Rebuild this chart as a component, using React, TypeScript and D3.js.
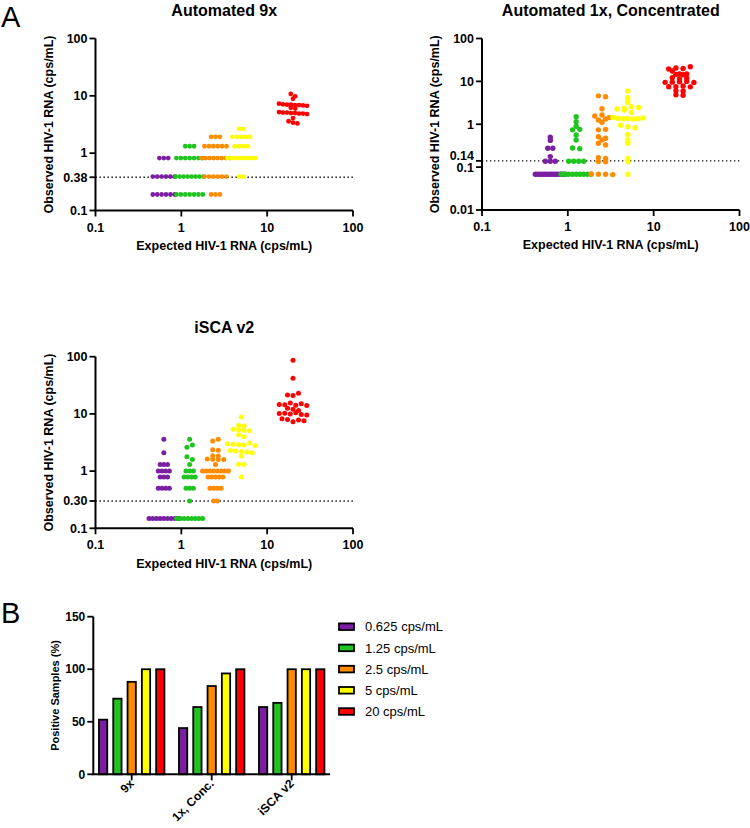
import React from "react";
import * as d3 from "d3";

type Row = [number, number]; // [observed value, number of samples at that value]

const FONT = "'Liberation Sans', Arial, Helvetica, sans-serif";

const seriesNames = ["0.625 cps/mL", "1.25 cps/mL", "2.5 cps/mL", "5 cps/mL", "20 cps/mL"];
const expectedRNA = [0.625, 1.25, 2.5, 5, 20];
const seriesColors = ["#7b1fa2", "#1fc41f", "#ff8c00", "#ffff00", "#ff0000"];

const xTicks = [0.1, 1, 10, 100];
const xTickLabels = ["0.1", "1", "10", "100"];

// ---- Automated 9x ----
const a9x_0625: Row[] = [[0.82, 3], [0.39, 6], [0.19, 6]];
const a9x_125: Row[] = [[1.32, 3], [0.82, 7], [0.39, 8], [0.19, 7]];
const a9x_25: Row[] = [[1.93, 3], [1.32, 6], [0.82, 8], [0.39, 6], [0.19, 3]];
const a9x_5: Row[] = [[2.66, 2], [1.93, 5], [1.32, 4], [0.82, 8], [0.39, 2]];
const a9x_20: Row[] = [
  [10.8, 1], [9.8, 1], [8.9, 1], [7.3, 1], [7.1, 1], [7.0, 2], [6.9, 2], [6.8, 1], [6.7, 1],
  [6.2, 1], [6.0, 1], [5.2, 1], [5.1, 2], [5.0, 2], [4.9, 2], [4.8, 1], [4.1, 1], [3.6, 1], [3.4, 1], [3.3, 1],
];
const yTicks9x = [0.1, 0.38, 1, 10, 100];
const yTickLabels9x = ["0.1", "0.38", "1", "10", "100"];
const lod9x = 0.38;

// ---- Automated 1x, Concentrated ----
const c1x_0625: Row[] = [[0.5, 1], [0.42, 1], [0.275, 2], [0.176, 1], [0.137, 3], [0.068, 14]];
const c1x_125: Row[] = [
  [1.5, 1], [1.15, 1], [0.9, 1], [0.74, 1], [0.76, 1], [0.56, 1], [0.43, 1], [0.28, 1], [0.27, 1],
  [0.137, 4], [0.068, 9],
];
const c1x_25: Row[] = [
  [4.6, 1], [4.4, 1], [2.3, 1], [1.56, 1], [1.65, 1], [1.43, 1], [1.26, 1], [1.33, 1], [1.11, 1],
  [0.74, 1], [0.76, 1], [0.51, 1], [0.47, 1], [0.43, 1], [0.36, 1], [0.33, 1], [0.167, 1], [0.16, 1],
  [0.136, 1], [0.134, 1], [0.069, 1], [0.068, 2], [0.067, 1],
];
const c1x_5: Row[] = [
  [5.97, 1], [4.17, 1], [3.26, 1], [2.27, 1], [2.36, 1], [2.57, 1], [2.45, 1], [2.15, 1], [1.9, 1],
  [1.45, 1], [1.38, 1], [1.34, 1], [1.36, 1], [1.33, 1], [1.35, 1], [1.4, 1],
  [0.95, 1], [0.88, 1], [0.83, 1], [0.58, 1], [0.43, 1], [0.36, 1], [0.16, 1], [0.135, 1], [0.068, 1],
];
const c1x_20: Row[] = [
  [19.5, 1], [20.5, 1], [20, 1], [22, 1], [17.4, 1], [14.9, 1], [14.5, 1], [14.9, 1], [14.3, 1],
  [12.2, 1], [11.4, 1], [11.8, 1], [9.5, 1], [9.6, 1], [9.8, 1], [10, 1], [9.4, 1],
  [7.5, 1], [7.55, 1], [7.8, 1], [7.45, 1], [6.05, 1], [5.95, 1], [4.85, 1], [4.75, 1],
];
const yTicks1x = [0.01, 0.1, 0.14, 1, 10, 100];
const yTickLabels1x = ["0.01", "0.1", "0.14", "1", "10", "100"];
const lod1x = 0.14;

// ---- iSCA v2 ----
const isca_0625: Row[] = [[3.6, 1], [2.09, 1], [1.31, 3], [1.0, 4], [0.79, 3], [0.5, 4], [0.149, 9]];
const isca_125: Row[] = [
  [3.6, 1], [2.6, 1], [2.85, 1], [1.78, 1], [1.6, 1], [1.31, 1], [1.0, 3], [0.79, 4], [0.5, 3],
  [0.3, 1], [0.149, 8],
];
const isca_25: Row[] = [
  [3.35, 1], [3.6, 1], [2.35, 1], [2.31, 1], [1.86, 1], [1.84, 1], [1.62, 1], [1.61, 1], [1.6, 1], [1.59, 1],
  [1.31, 1], [1.0, 8], [0.79, 5], [0.5, 4], [0.3, 2],
];
const isca_5: Row[] = [
  [8.8, 1], [6.3, 1], [6.2, 1], [5.4, 1], [5.3, 1], [5.2, 1], [5.1, 1], [4.3, 1], [4.0, 1],
  [3.0, 1], [2.95, 1], [2.9, 1], [2.85, 1], [3.1, 1], [2.8, 1],
  [2.3, 1], [2.25, 1], [2.2, 1], [2.15, 1], [2.1, 1], [1.83, 1], [1.32, 1], [1.3, 1], [0.79, 1],
];
const isca_20: Row[] = [
  [87, 1], [42, 1], [21.5, 1], [21, 1], [23, 1],
  [14.6, 1], [14.4, 1], [15.5, 1], [14.2, 1], [15, 1], [14.0, 1],
  [12.5, 1], [12, 1], [11.5, 1],
  [10.2, 1], [10.3, 1], [10, 1], [10.5, 1], [9.8, 1], [9.6, 1],
  [8.2, 1], [8, 1], [7.3, 1], [7.8, 1], [7.6, 1],
];
const yTicksIsca = [0.1, 0.3, 1, 10, 100];
const yTickLabelsIsca = ["0.1", "0.30", "1", "10", "100"];
const lodIsca = 0.3;

// ---- Panel B ----
const barGroups = ["9x", "1x, Conc.", "iSCA v2"];
const pos0625 = [52, 44, 64];
const pos125 = [72, 64, 68];
const pos25 = [88, 84, 100];
const pos5 = [100, 96, 100];
const pos20 = [100, 100, 100];
const yTicksB = [0, 50, 100, 150];

interface SwarmOpt { h: number; s: number; sRow: number; W: number }

function swarm(rows: Row[], y: (v: number) => number, cx: number, o: SwarmOpt) {
  const pts: { v: number; y: number; i: number }[] = [];
  rows.forEach(([v, n]) => {
    for (let k = 0; k < n; k++) pts.push({ v, y: y(v), i: pts.length });
  });
  const sorted = [...pts].sort((a, b) => a.y - b.y || a.i - b.i);
  const bins: { v: number; y: number; i: number }[][] = [];
  let start = -Infinity;
  sorted.forEach((p) => {
    if (bins.length === 0 || p.y - start >= o.h - 1e-9) {
      bins.push([]);
      start = p.y;
    }
    bins[bins.length - 1].push(p);
  });
  const out: { x: number; y: number }[] = [];
  bins.forEach((b) => {
    const k = b.length;
    const same = b.every((p) => p.v === b[0].v);
    const base = same ? o.sRow : o.s;
    const sp = k > 1 ? Math.min(base, o.W / (k - 1)) : 0;
    b.sort((a, c) => a.i - c.i).forEach((p, j) => out.push({ x: cx + (j - (k - 1) / 2) * sp, y: p.y }));
  });
  return out;
}

interface PanelCfg {
  title: string;
  titleY: number;
  xr: [number, number];
  yr: [number, number];
  yd: [number, number];
  yTicks: number[];
  yLabels: string[];
  lod: number;
  groups: Row[][];
  opt: SwarmOpt;
  r: number;
  yLabelX: number;
  xLabelY: number;
}

const panels: PanelCfg[] = [
  {
    title: "Automated 9x", titleY: 16, xr: [95.5, 353], yr: [210.5, 38.5], yd: [0.1, 100],
    yTicks: yTicks9x, yLabels: yTickLabels9x, lod: lod9x,
    groups: [a9x_0625, a9x_125, a9x_25, a9x_5, a9x_20],
    opt: { h: 3, s: 4.4, sRow: 4.4, W: 28 }, r: 2.4, yLabelX: 53, xLabelY: 249.5,
  },
  {
    title: "Automated 1x, Concentrated", titleY: 16, xr: [482, 739.5], yr: [210, 38.5], yd: [0.01, 100],
    yTicks: yTicks1x, yLabels: yTickLabels1x, lod: lod1x,
    groups: [c1x_0625, c1x_125, c1x_25, c1x_5, c1x_20],
    opt: { h: 3, s: 7.2, sRow: 5, W: 30 }, r: 2.7, yLabelX: 439, xLabelY: 248.5,
  },
  {
    title: "iSCA v2", titleY: 333, xr: [95.5, 353], yr: [528.3, 356.7], yd: [0.1, 100],
    yTicks: yTicksIsca, yLabels: yTickLabelsIsca, lod: lodIsca,
    groups: [isca_0625, isca_125, isca_25, isca_5, isca_20],
    opt: { h: 3, s: 5.5, sRow: 3.7, W: 30 }, r: 2.5, yLabelX: 53, xLabelY: 567.5,
  },
];

function ScatterPanel({ c }: { c: PanelCfg }) {
  const x = d3.scaleLog().domain([0.1, 100]).range(c.xr);
  const y = d3.scaleLog().domain(c.yd).range(c.yr);
  const [x0, x1] = c.xr;
  const yBase = c.yr[0];
  const cxMid = (x0 + x1) / 2;
  const cyMid = (c.yr[0] + c.yr[1]) / 2;
  // nudge overlapping tick labels apart
  const tickPos = c.yTicks.map((t) => y(t));
  const labelPos = tickPos.map((p, i) => {
    const below = i > 0 ? tickPos[i - 1] : Infinity;
    return below - p < 9 ? p - 5.5 : p;
  });
  const labelPos2 = labelPos.map((p, i) => {
    const above = i < tickPos.length - 1 ? tickPos[i + 1] : -Infinity;
    return p - above < 9 ? p + 1 : p;
  });
  return (
    <g>
      <text x={cxMid} y={c.titleY} textAnchor="middle" fontFamily={FONT} fontWeight="bold" fontSize={16}>
        {c.title}
      </text>
      <line x1={x0} x2={x1} y1={y(c.lod)} y2={y(c.lod)} stroke="#000" strokeWidth={1.3} strokeDasharray="1.3 2.7" />
      {c.groups.map((g, gi) =>
        swarm(g, y, x(expectedRNA[gi]), c.opt).map((p, pi) => (
          <circle key={gi + "-" + pi} cx={p.x} cy={p.y} r={c.r} fill={seriesColors[gi]} />
        ))
      )}
      <line x1={x0} x2={x0} y1={c.yr[1]} y2={yBase} stroke="#000" strokeWidth={2} />
      <line x1={x0 - 1} x2={x1} y1={yBase} y2={yBase} stroke="#000" strokeWidth={2} />
      {c.yTicks.map((t, i) => (
        <g key={"yt" + i}>
          <line x1={x0 - 6} x2={x0} y1={y(t)} y2={y(t)} stroke="#000" strokeWidth={1.8} />
          <text x={x0 - 8} y={labelPos2[i] + 4.3} textAnchor="end" fontFamily={FONT} fontWeight="bold" fontSize={12.5}>
            {c.yLabels[i]}
          </text>
        </g>
      ))}
      {xTicks.map((t, i) => (
        <g key={"xt" + i}>
          <line x1={x(t)} x2={x(t)} y1={yBase} y2={yBase + 6} stroke="#000" strokeWidth={1.8} />
          <text x={x(t)} y={yBase + 21} textAnchor="middle" fontFamily={FONT} fontWeight="bold" fontSize={12.5}>
            {xTickLabels[i]}
          </text>
        </g>
      ))}
      <text
        transform={`translate(${c.yLabelX},${cyMid}) rotate(-90)`}
        textAnchor="middle" fontFamily={FONT} fontWeight="bold" fontSize={12.5}
      >
        Observed HIV-1 RNA (cps/mL)
      </text>
      <text x={cxMid} y={c.xLabelY} textAnchor="middle" fontFamily={FONT} fontWeight="bold" fontSize={12.5}>
        Expected HIV-1 RNA (cps/mL)
      </text>
    </g>
  );
}

function BarPanel() {
  const seriesVals = [pos0625, pos125, pos25, pos5, pos20];
  const x0 = d3.scaleBand<string>().domain(barGroups).range([91.7, 331.7]).padding(0);
  const x1 = d3.scaleBand<number>().domain(d3.range(seriesNames.length)).range([-35.75, 35.75]).paddingInner(0.42).paddingOuter(0.21);
  const y = d3.scaleLinear().domain([0, 150]).range([774.3, 616.7]);
  const axX = 93.3;
  return (
    <g>
      {barGroups.map((g, gi) =>
        seriesVals.map((vals, si) => {
          const cx = (x0(g) as number) + x0.bandwidth() / 2;
          const bx = cx + (x1(si) as number);
          return (
            <rect key={g + si} x={bx} y={y(vals[gi])} width={x1.bandwidth()} height={y(0) - y(vals[gi])}
              fill={seriesColors[si]} stroke="#000" strokeWidth={1.8} />
          );
        })
      )}
      <line x1={axX} x2={axX} y1={y(150)} y2={y(0)} stroke="#000" strokeWidth={2} />
      <line x1={axX - 1} x2={330} y1={y(0)} y2={y(0)} stroke="#000" strokeWidth={2} />
      {yTicksB.map((t) => (
        <g key={"b" + t}>
          <line x1={axX - 6} x2={axX} y1={y(t)} y2={y(t)} stroke="#000" strokeWidth={1.8} />
          <text x={axX - 8} y={y(t) + 4.2} textAnchor="end" fontFamily={FONT} fontWeight="bold" fontSize={12}>
            {t}
          </text>
        </g>
      ))}
      {barGroups.map((g) => {
        const cx = (x0(g) as number) + x0.bandwidth() / 2;
        return (
          <g key={"bx" + g}>
            <line x1={cx} x2={cx} y1={y(0)} y2={y(0) + 6} stroke="#000" strokeWidth={1.8} />
            <text transform={`translate(${cx + 3},${y(0) + 10}) rotate(-45)`} textAnchor="end"
              fontFamily={FONT} fontWeight="bold" fontSize={12}>
              {g}
            </text>
          </g>
        );
      })}
      <text transform={`translate(59,${(y(0) + y(150)) / 2}) rotate(-90)`} textAnchor="middle"
        fontFamily={FONT} fontWeight="bold" fontSize={11}>
        Positive Samples (%)
      </text>
      {seriesNames.map((s, i) => {
        const cy = 626.7 + i * 21.2;
        return (
          <g key={"lg" + i}>
            <rect x={339} y={cy - 3.3} width={15} height={6.6} fill={seriesColors[i]} stroke="#000" strokeWidth={1.8} />
            <text x={365} y={cy + 4.6} fontFamily={FONT} fontSize={13}>{s}</text>
          </g>
        );
      })}
    </g>
  );
}

export default function App() {
  return (
    <svg width={750} height={828} style={{ position: "absolute", left: 0, top: 0, background: "#fff" }}>
      <rect x={0} y={0} width={750} height={828} fill="#fff" />
      <text x={1} y={26.5} fontFamily={FONT} fontSize={29}>A</text>
      <text x={1} y={623} fontFamily={FONT} fontSize={29}>B</text>
      {panels.map((c, i) => (
        <ScatterPanel key={i} c={c} />
      ))}
      <BarPanel />
    </svg>
  );
}
